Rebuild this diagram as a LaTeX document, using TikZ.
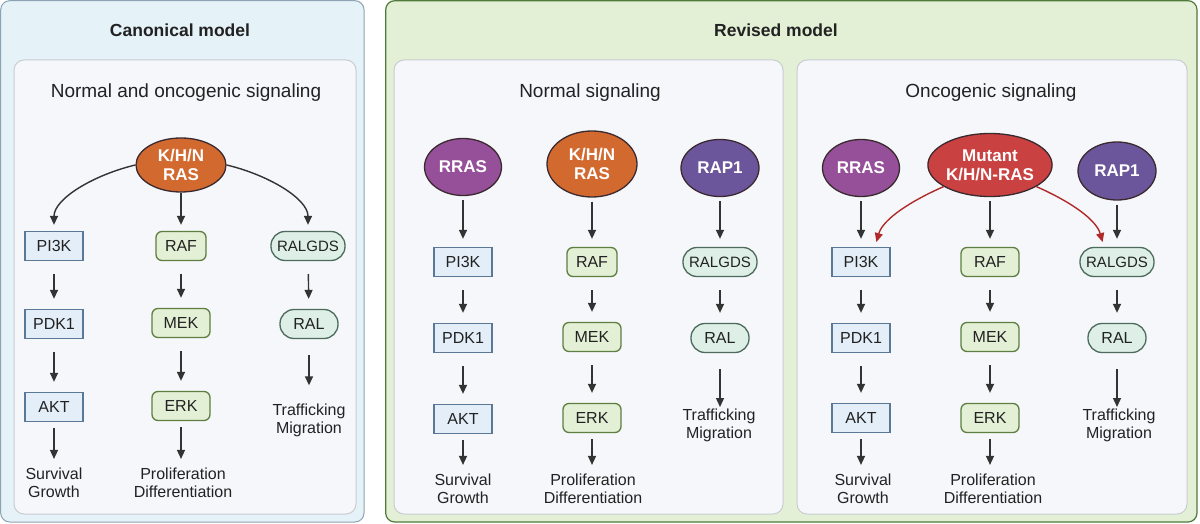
\documentclass[tikz,border=0pt]{standalone}
\usepackage{fontspec}
\setmainfont{Liberation Sans}
\usetikzlibrary{shapes.geometric,arrows.meta}
\definecolor{canfill}{HTML}{E5F2F8}
\definecolor{canline}{HTML}{8DA3B3}
\definecolor{revfill}{HTML}{E3F0D6}
\definecolor{revline}{HTML}{4E7A3A}
\definecolor{innerfill}{HTML}{F5F7FA}
\definecolor{innerline}{HTML}{C9CDD1}
\definecolor{pifill}{HTML}{E4EEF8}
\definecolor{piline}{HTML}{5B7896}
\definecolor{raffill}{HTML}{E4F0D6}
\definecolor{rafline}{HTML}{5E7E42}
\definecolor{ralfill}{HTML}{DDEFE7}
\definecolor{ralline}{HTML}{4D6B5C}
\definecolor{rasorange}{HTML}{D2692F}
\definecolor{rraspurple}{HTML}{96509A}
\definecolor{rappurple}{HTML}{6C569B}
\definecolor{mutred}{HTML}{C94140}
\definecolor{redarrow}{HTML}{B02A2A}
\definecolor{arrowc}{HTML}{333333}
\definecolor{ellline}{HTML}{3A2A30}
\definecolor{txt}{HTML}{222222}
\tikzset{
  x=1pt, y=1pt,
  pibox/.style={draw=piline, fill=pifill, line width=1.3pt, minimum width=58pt, minimum height=29pt, inner sep=0pt, text=txt, font=\fontsize{16}{18}\selectfont},
  rafbox/.style={draw=rafline, fill=raffill, line width=1.3pt, rounded corners=6pt, minimum width=58pt, minimum height=29pt, inner sep=0pt, text=txt, font=\fontsize{16}{18}\selectfont},
  ralbox/.style={draw=ralline, fill=ralfill, line width=1.3pt, rounded corners=14pt, minimum width=58pt, minimum height=29pt, inner sep=0pt, text=txt, font=\fontsize{16}{18}\selectfont},
  ralgdsbox/.style={ralbox, minimum width=74pt, font=\fontsize{15}{18}\selectfont},
  ell/.style={ellipse, draw=ellline, line width=1.3pt, text=white, inner sep=0pt, align=center, font=\bfseries\fontsize{17}{19}\selectfont},
  outcome/.style={align=center, inner sep=0pt, text=txt, font=\fontsize{16}{18}\selectfont},
  paneltitle/.style={inner sep=0pt, text=txt, font=\bfseries\fontsize{17.5}{20}\selectfont},
  subtitle/.style={inner sep=0pt, text=txt, font=\fontsize{19}{22}\selectfont},
  arr/.style={draw=arrowc, line width=1.4pt, -{Triangle[length=9pt,width=8pt]}},
  rarr/.style={draw=redarrow, line width=1.4pt, -{Triangle[length=9pt,width=8pt]}},
  rowarr/.style={arr, shorten <=13pt, shorten >=10pt},
}
\begin{document}
\begin{tikzpicture}
\useasboundingbox (0,0) rectangle (1200,-524);
% panels
\draw[fill=canfill, draw=canline, line width=1pt, rounded corners=9pt] (0.7,-0.7) rectangle (364,-522);
\draw[fill=revfill, draw=revline, line width=1.2pt, rounded corners=9pt] (385.7,-0.7) rectangle (1197,-522);
\draw[fill=innerfill, draw=innerline, line width=1pt, rounded corners=10pt] (14,-60) rectangle (356,-514);
\draw[fill=innerfill, draw=innerline, line width=1pt, rounded corners=10pt] (394,-60) rectangle (783,-514);
\draw[fill=innerfill, draw=innerline, line width=1pt, rounded corners=10pt] (797,-60) rectangle (1187,-514);

\node[paneltitle] (t1) at (180,-30) {Canonical model};
\node[paneltitle] (t2) at (776,-30) {Revised model};
\node[subtitle] (s1) at (186,-93) {Normal and oncogenic signaling};
\node[subtitle] (s2) at (590,-93) {Normal signaling};
\node[subtitle] (s3) at (991,-93) {Oncogenic signaling};

% ---------- Canonical ----------
\node[ell, fill=rasorange, minimum width=90pt, minimum height=54pt] (ras1) at (181,-165) {K/H/N\\RAS};
\node[pibox] (pi3k1) at (54,-246) {PI3K};
\node[rafbox, minimum width=50pt] (raf1) at (181,-246) {RAF};
\node[ralgdsbox] (ralgds1) at (308,-246) {RALGDS};
\node[pibox] (pdk1) at (54,-324) {PDK1};
\node[rafbox] (mek1) at (181,-323) {MEK};
\node[ralbox] (ral1) at (309,-324) {RAL};
\node[pibox] (akt1) at (54,-407) {AKT};
\node[rafbox] (erk1) at (181,-406) {ERK};
\node[outcome] (traf1) at (309,-420) {Trafficking\\Migration};
\node[outcome] (surv1) at (54,-483) {Survival\\Growth};
\node[outcome] (prol1) at (183,-483) {Proliferation\\Differentiation};

\draw[arr, shorten >=6pt] (ras1.west) .. controls +(-42,-10) and +(0,32) .. (pi3k1.north);
\draw[arr, shorten >=6pt] (ras1.east) .. controls +(42,-10) and +(0,32) .. (ralgds1.north);
\draw[arr, shorten >=6pt] (ras1) -- (raf1);
\draw[rowarr] (pi3k1) -- (pdk1);
\draw[rowarr] (pdk1) -- (akt1);
\draw[rowarr] (raf1) -- (mek1);
\draw[rowarr] (mek1) -- (erk1);
\draw[rowarr] (ralgds1) -- (ral1);
\draw[arr, shorten <=16pt, shorten >=18pt] (ral1) -- (traf1);
\draw[arr, shorten <=6pt, shorten >=9pt] (akt1) -- (surv1.north);
\draw[arr, shorten <=6pt, shorten >=9pt] (erk1) -- (erk1 |- prol1.north);

% ---------- Normal signaling ----------
\node[ell, fill=rraspurple, minimum width=77pt, minimum height=57pt] (rras2) at (463,-167) {RRAS};
\node[ell, fill=rasorange, minimum width=90pt, minimum height=66pt] (ras2) at (592,-164) {K/H/N\\RAS};
\node[ell, fill=rappurple, minimum width=78pt, minimum height=57pt] (rap2) at (720,-168) {RAP1};
\node[pibox] (pi3k2) at (463,-262) {PI3K};
\node[rafbox, minimum width=50pt] (raf2) at (592,-262) {RAF};
\node[ralgdsbox] (ralgds2) at (720,-262) {RALGDS};
\node[pibox] (pdk2) at (463,-338) {PDK1};
\node[rafbox] (mek2) at (592,-337) {MEK};
\node[ralbox] (ral2) at (720,-338) {RAL};
\node[pibox] (akt2) at (463,-419) {AKT};
\node[rafbox] (erk2) at (592,-418) {ERK};
\node[outcome] (traf2) at (719,-425) {Trafficking\\Migration};
\node[outcome] (surv2) at (463,-489) {Survival\\Growth};
\node[outcome] (prol2) at (593,-489) {Proliferation\\Differentiation};

\draw[arr, shorten <=4pt, shorten >=8pt] (rras2) -- (pi3k2);
\draw[arr, shorten <=4pt, shorten >=8pt] (ras2) -- (raf2);
\draw[arr, shorten <=4pt, shorten >=8pt] (rap2) -- (ralgds2);
\draw[rowarr] (pi3k2) -- (pdk2);
\draw[rowarr] (pdk2) -- (akt2);
\draw[rowarr] (raf2) -- (mek2);
\draw[rowarr] (mek2) -- (erk2);
\draw[rowarr] (ralgds2) -- (ral2);
\draw[arr, shorten <=16pt, shorten >=18pt] (ral2) -- (ral2 |- traf2);
\draw[arr, shorten <=6pt, shorten >=9pt] (akt2) -- (surv2.north);
\draw[arr, shorten <=6pt, shorten >=9pt] (erk2) -- (erk2 |- prol2.north);

% ---------- Oncogenic signaling ----------
\node[ell, fill=rraspurple, minimum width=77pt, minimum height=57pt] (rras3) at (861,-168) {RRAS};
\node[ell, fill=mutred, minimum width=117pt, minimum height=63pt] (mut3) at (990,-165) {Mutant\\K/H/N-RAS};
\node[ell, fill=rappurple, minimum width=78pt, minimum height=58pt] (rap3) at (1117,-171) {RAP1};
\node[pibox] (pi3k3) at (861,-262) {PI3K};
\node[rafbox] (raf3) at (990,-262) {RAF};
\node[ralgdsbox] (ralgds3) at (1117,-262) {RALGDS};
\node[pibox] (pdk3) at (861,-338) {PDK1};
\node[rafbox] (mek3) at (990,-337) {MEK};
\node[ralbox] (ral3) at (1117,-338) {RAL};
\node[pibox] (akt3) at (861,-418) {AKT};
\node[rafbox] (erk3) at (990,-418) {ERK};
\node[outcome] (traf3) at (1119,-425) {Trafficking\\Migration};
\node[outcome] (surv3) at (863,-489) {Survival\\Growth};
\node[outcome] (prol3) at (993,-489) {Proliferation\\Differentiation};

\draw[arr, shorten <=4pt, shorten >=8pt] (rras3) -- (pi3k3);
\draw[arr, shorten <=4pt, shorten >=8pt] (mut3) -- (raf3);
\draw[arr, shorten <=4pt, shorten >=8pt] (rap3) -- (ralgds3);
\draw[rarr, shorten >=5pt] (mut3.205) .. controls +(-32,-14) and +(8,28) .. ([xshift=14pt]pi3k3.north);
\draw[rarr, shorten >=5pt] (mut3.335) .. controls +(32,-14) and +(-8,28) .. ([xshift=-13pt]ralgds3.north);
\draw[rowarr] (pi3k3) -- (pdk3);
\draw[rowarr] (pdk3) -- (akt3);
\draw[rowarr] (raf3) -- (mek3);
\draw[rowarr] (mek3) -- (erk3);
\draw[rowarr] (ralgds3) -- (ral3);
\draw[arr, shorten <=16pt, shorten >=18pt] (ral3) -- (ral3 |- traf3);
\draw[arr, shorten <=6pt, shorten >=9pt] (akt3) -- (akt3 |- surv3.north);
\draw[arr, shorten <=6pt, shorten >=9pt] (erk3) -- (erk3 |- prol3.north);
\end{tikzpicture}
\end{document}
